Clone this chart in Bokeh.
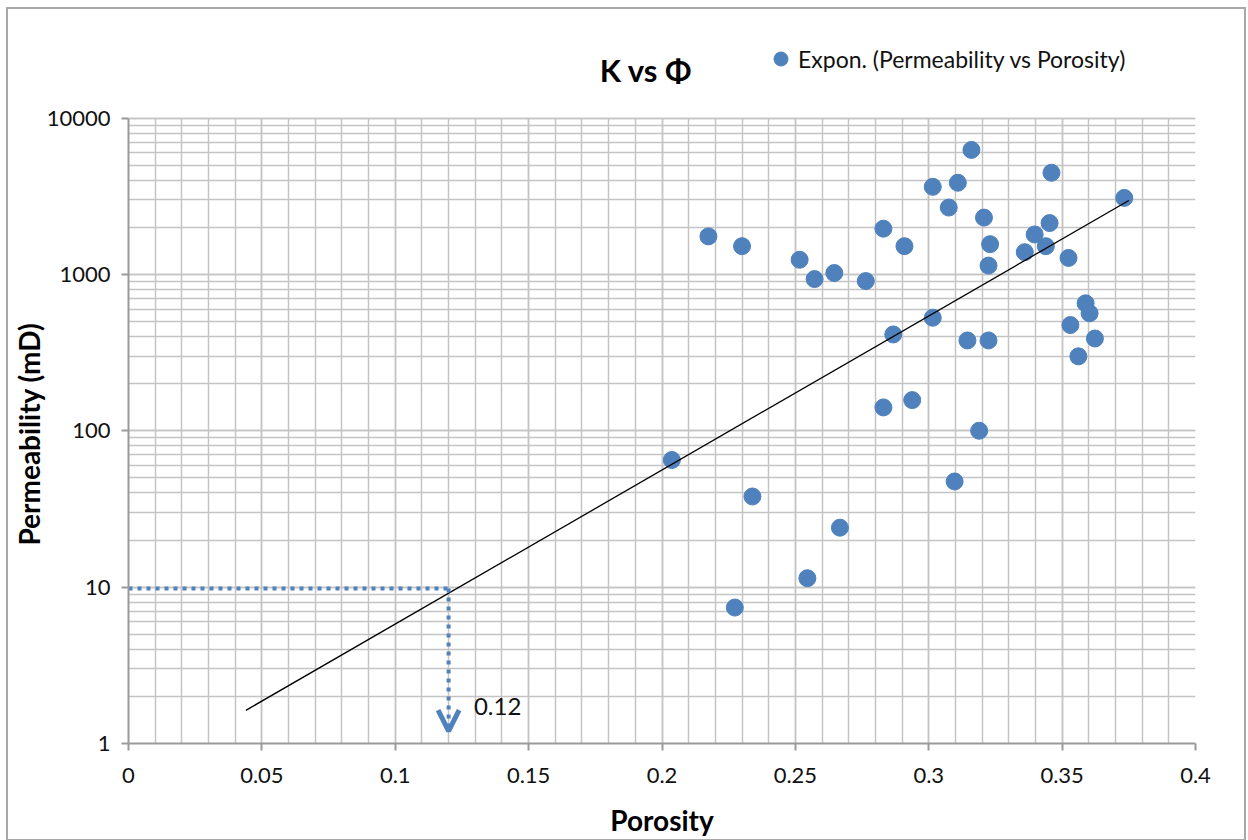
from bokeh.plotting import figure
from bokeh.models import (Label, Legend, LegendItem, Arrow, OpenHead, FixedTicker,
                          Range1d, CustomJSTickFormatter)
from bokeh.embed import file_html
from bokeh.resources import INLINE

# ---- data ----
porosity = [0.2037, 0.2174, 0.2300, 0.2339, 0.2273, 0.2516, 0.2572, 0.2646, 0.2545, 0.2667,
            0.2764, 0.2830, 0.2830, 0.2867, 0.2909, 0.2938, 0.3015, 0.3015, 0.3075, 0.3109,
            0.3097, 0.3145, 0.3160, 0.3189, 0.3207, 0.3224, 0.3224, 0.3230, 0.3360, 0.3397,
            0.3439, 0.3453, 0.3460, 0.3524, 0.3531, 0.3561, 0.3588, 0.3603, 0.3623, 0.3733]
permeability = [65, 1750, 1515, 38, 7.4, 1240, 933, 1020, 11.4, 24,
                906, 1960, 141, 413, 1515, 157, 528, 3630, 2675, 3855,
                47.4, 378, 6250, 100, 2307, 378, 1138, 1560, 1387, 1800,
                1514, 2128, 4467, 1274, 474, 299, 653, 564, 389, 3083]

# exponential trend line (straight on log axis): end points
trend_x = [0.044, 0.375]
trend_y = [1.63, 2970]

# read-off construction
cut_k = 9.8
cut_phi = 0.12
arrow_end_k = 1.2

x_ticks = [0, 0.05, 0.1, 0.15, 0.2, 0.25, 0.3, 0.35, 0.4]
y_ticks = [1, 10, 100, 1000, 10000]

FONT = "Lato"
BLUE = "#4F81BD"
GRID = "#C4C4C4"

# the frame reaches up into the heading area so that title and legend are not clipped;
# axis, grid and border are bounded to the 1..10000 plot area
Y_TOP = 10 ** 4.566

p = figure(width=1240, height=834,
           x_range=Range1d(0, 0.4), y_range=Range1d(1, Y_TOP), y_axis_type="log",
           output_backend="svg", toolbar_location=None,
           min_border_left=119, min_border_right=53, min_border_top=20, min_border_bottom=100,
           background_fill_color="white", border_fill_color="white")
p.margin = (7, 0, 0, 6)
p.styles = {"border": "2px solid #A8A8A8", "box-sizing": "border-box"}
p.outline_line_color = None

# ticks / grid
x_minor = [round(i * 0.01, 2) for i in range(41)]
y_minor = [m * 10 ** e for e in range(4) for m in range(1, 10)] + [10000]
p.xaxis.ticker = FixedTicker(ticks=x_ticks, minor_ticks=x_minor)
p.yaxis.ticker = FixedTicker(ticks=y_ticks, minor_ticks=y_minor)
p.xaxis.formatter = CustomJSTickFormatter(code="return String(Math.round(tick*100)/100)")
p.yaxis.formatter = CustomJSTickFormatter(code="return String(Math.round(tick))")
p.yaxis.bounds = (1, 10000)

for g in (p.xgrid, p.ygrid):
    g.grid_line_color = GRID
    g.grid_line_width = 1.5
    g.minor_grid_line_color = GRID
    g.minor_grid_line_width = 1.5
p.xgrid.bounds = (-0.001, 0.401)
p.ygrid.bounds = (0.99, 10001)
try:
    p.xgrid.cross_bounds = (1, 10000)
except AttributeError:
    pass

for ax in (p.xaxis, p.yaxis):
    ax.axis_line_color = "#9A9A9A"
    ax.axis_line_width = 2
    ax.major_tick_line_color = "#9A9A9A"
    ax.major_tick_line_width = 2
    ax.major_tick_in = 0
    ax.major_tick_out = 7
    ax.minor_tick_line_color = None
    ax.major_label_text_font = FONT
    ax.major_label_text_font_size = "22px"
    ax.major_label_text_color = "#111111"
    ax.axis_label_text_font = FONT
    ax.axis_label_text_font_size = "28px"
    ax.axis_label_text_font_style = "bold"
    ax.axis_label_text_color = "#000000"

# trailing no-break spaces keep the label centred on the 1..10000 part of the axis
p.xaxis.axis_label = "Porosity"
p.yaxis.axis_label = "Permeability (mD)" + "\u00a0" * 14
p.xaxis.major_label_standoff = 17
p.yaxis.major_label_standoff = 11
p.xaxis.axis_label_standoff = 17
p.yaxis.axis_label_standoff = -2

# data
r = p.scatter(porosity, permeability, size=17, color=BLUE, line_color=BLUE)
p.line(trend_x, trend_y, line_color="#000000", line_width=1.3)

# dotted read-off lines + arrow
p.line([0, cut_phi], [cut_k, cut_k], line_color=BLUE, line_width=4, line_dash="4 5")
p.add_layout(Arrow(x_start=cut_phi, y_start=cut_k, x_end=cut_phi, y_end=arrow_end_k,
                   line_color=BLUE, line_width=4, line_dash="4 5",
                   end=OpenHead(size=21, line_color=BLUE, line_width=5)))
p.add_layout(Label(x=0.1295, y=1.72, text="0.12", text_font=FONT, text_font_size="24px",
                   text_baseline="middle", text_color="#111111"))

# title
p.add_layout(Label(x=0.194, y=10 ** 4.309, text="K vs Φ", text_font=FONT,
                   text_font_size="31px", text_font_style="bold",
                   text_align="center", text_baseline="middle", text_color="#000000"))

# legend
legend = Legend(items=[LegendItem(label="Expon. (Permeability vs Porosity)", renderers=[r])],
                location=(635, 667), border_line_color=None, background_fill_alpha=0,
                label_text_font=FONT, label_text_font_size="23px", label_text_color="#111111",
                glyph_width=35, glyph_height=35, padding=0, margin=0, spacing=0,
                label_standoff=0)
p.add_layout(legend)

open("out.html", "w").write(file_html(p, INLINE))
